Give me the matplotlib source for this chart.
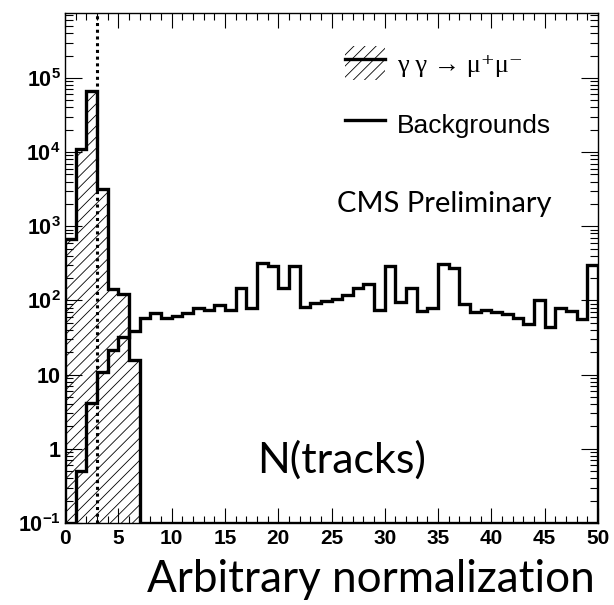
import numpy as np
import matplotlib
matplotlib.use('Agg')
import matplotlib.pyplot as plt
from matplotlib.patches import Patch
from matplotlib.lines import Line2D
from matplotlib.legend_handler import HandlerTuple
from matplotlib.ticker import FixedLocator, MultipleLocator, FuncFormatter, NullFormatter

# ---------------- data ----------------
bin_edges = np.arange(0, 51, 1)
signal = [670, 11000, 67000, 3200, 142, 122, 15.6] + [0] * 43
background = [0, 0.51, 4.1, 10.7, 21.6, 32, 39, 58, 68, 58,
              62, 68, 79, 74, 87, 74, 148, 79, 316, 290,
              145, 290, 81, 92, 98, 105, 120, 145, 167, 74,
              290, 95, 145, 71, 80, 310, 270, 89, 70, 74,
              69, 66, 58, 48, 100, 44, 79, 72, 56, 300]
cut_value = 3
x_ticks = [0, 5, 10, 15, 20, 25, 30, 35, 40, 45, 50]
y_decades = [-1, 0, 1, 2, 3, 4, 5]
legend_labels = ["γ γ → μ⁺μ⁻", "Backgrounds"]
cms_text = "CMS Preliminary"
var_text = "N(tracks)"
norm_text = "Arbitrary normalization"

YMIN, YMAX = 0.1, 7.5e5

# ---------------- style ----------------
plt.rcParams['mathtext.fontset'] = 'custom'
plt.rcParams['mathtext.rm'] = 'Liberation Sans:bold'
plt.rcParams['mathtext.bf'] = 'Liberation Sans:bold'
plt.rcParams['mathtext.it'] = 'Liberation Sans:bold'
plt.rcParams['hatch.linewidth'] = 0.6

W, H = 614, 605
fig = plt.figure(figsize=(W / 100, H / 100), dpi=100)
ax = fig.add_axes([65 / W, 1 - 523 / H, 533 / W, 510 / H])
ax.set_yscale('log')

sig = np.array(signal, dtype=float)
bkg = np.array(background, dtype=float)

# hatched signal fill
ax.stairs(np.maximum(sig, YMIN), bin_edges, baseline=YMIN, fill=True,
          facecolor='none', edgecolor='black', hatch='///', linewidth=0, zorder=1)
# signal outline
ax.stairs(np.maximum(sig, YMIN), bin_edges, baseline=YMIN, color='black',
          linewidth=2.4, zorder=3)
# background outline
ax.stairs(np.maximum(bkg, YMIN), bin_edges, baseline=YMIN, color='black',
          linewidth=2.4, zorder=3)
# cut line
ax.axvline(cut_value, color='black', linestyle=(0, (1, 1.2)), linewidth=2.2, zorder=2)

ax.set_xlim(0, 50)
ax.set_ylim(YMIN, YMAX)

# ticks
ax.xaxis.set_major_locator(FixedLocator(x_ticks))
ax.xaxis.set_minor_locator(MultipleLocator(1))
ax.yaxis.set_major_locator(FixedLocator([10.0 ** e for e in y_decades]))
minors = [m * 10.0 ** e for e in range(-1, 6) for m in range(2, 10)]
ax.yaxis.set_minor_locator(FixedLocator(minors))
ax.yaxis.set_minor_formatter(NullFormatter())


def yfmt(v, pos):
    e = int(round(np.log10(v)))
    if e == 0:
        return '1'
    if e == 1:
        return '10'
    return r'$10^{%d}$' % e


ax.yaxis.set_major_formatter(FuncFormatter(yfmt))
ax.tick_params(axis='both', which='both', direction='in', top=True, right=True,
               width=0.8, color='black')
ax.tick_params(axis='y', which='major', length=12, pad=3)
ax.tick_params(axis='y', which='minor', length=6)
ax.tick_params(axis='x', which='major', length=11, pad=4)
ax.tick_params(axis='x', which='minor', length=5)
for lab in ax.get_xticklabels():
    lab.set_fontfamily('Liberation Sans')
    lab.set_fontweight('bold')
    lab.set_fontsize(15)
for lab in ax.get_yticklabels():
    lab.set_fontfamily('Liberation Sans')
    lab.set_fontweight('bold')
    lab.set_fontsize(15.5)
for sp in ax.spines.values():
    sp.set_linewidth(1.0)

# legend
h1 = (Patch(facecolor='white', edgecolor='black', hatch='///', linewidth=0),
      Line2D([], [], color='black', linewidth=2.4))
h2 = Line2D([], [], color='black', linewidth=2.4)
leg = fig.legend([h1, h2], legend_labels,
                 handler_map={tuple: HandlerTuple(ndivide=1, pad=0)},
                 loc='upper left', bbox_to_anchor=(345 / W, 1 - 46 / H),
                 bbox_transform=fig.transFigure, frameon=False,
                 prop={'family': 'Liberation Sans', 'size': 19},
                 handlelength=1.52, handleheight=1.6, handletextpad=0.45,
                 labelspacing=1.05, borderpad=0, borderaxespad=0)
leg.get_texts()[0].set_fontfamily(['Liberation Serif', 'DejaVu Serif'])

# texts
fig.text(337 / W, 1 - 212 / H, cms_text, fontfamily='Lato', fontsize=21, va='baseline')
fig.text(257 / W, 1 - 473 / H, var_text, fontfamily='Lato', fontsize=31, va='baseline')
fig.text(595 / W, 1 - 592 / H, norm_text, fontfamily='Lato', fontsize=31.7,
         va='baseline', ha='right')

fig.savefig('out.png', dpi=100)
